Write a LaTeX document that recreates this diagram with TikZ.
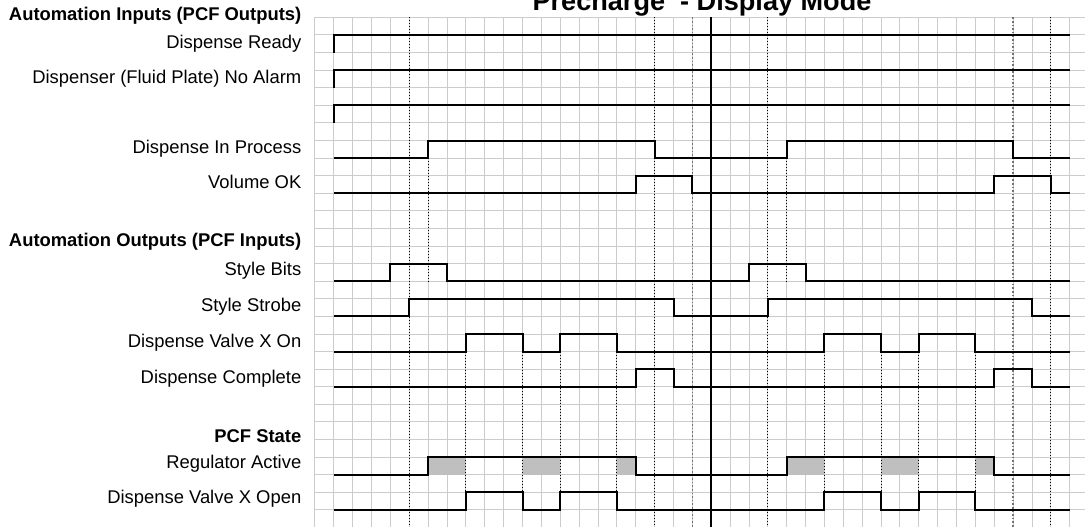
\documentclass[tikz,border=0pt]{standalone}
\usepackage{fontspec}
\setmainfont{Liberation Sans}
\definecolor{GridGray}{gray}{0.80}
\definecolor{FillGray}{gray}{0.75}
\definecolor{GuideGray}{gray}{0.45}

\begin{document}
\begin{tikzpicture}[
    x=9.435pt, y=-8.795pt,
    gridline/.style={GridGray, line width=0.5pt},
    sig/.style={black, line width=1pt, line join=miter},
    guide/.style={black, densely dotted, line width=0.5pt},
    guidegray/.style={GuideGray, densely dotted, line width=0.8pt},
    lbl/.style={anchor=base east, inner sep=0pt, font=\fontsize{9.2}{11}\selectfont},
    hdr/.style={anchor=base east, inner sep=0pt, font=\fontsize{9.2}{11}\selectfont\bfseries},
    headline/.style={anchor=base, inner sep=0pt, font=\fontsize{13.55}{16}\selectfont\bfseries},
]
\useasboundingbox (-16.693,-0.989) rectangle (40.805,28.971);

% --- grid ---
\foreach \c in {0,...,40}
    \draw[gridline] (\c,0) -- (\c,28.971);
\foreach \r in {0,...,28}
    \draw[gridline] (0,\r) -- (40.805,\r);

% --- regulator shading ---
\foreach \a/\b in {6/8, 11/13, 16/17, 25/27, 30/32, 35/36}
    \fill[FillGray] (\a,25) rectangle (\b,26);

% --- dotted guides ---
\foreach \c in {5, 18, 24, 39}
    \draw[guide] (\c,0) -- (\c,28.971);
\foreach \c in {20, 37}
    \draw[guidegray] (\c,0) -- (\c,28.971);
\foreach \c in {6, 25}
    \draw[guide] (\c,8) -- (\c,15);
\foreach \c in {8, 11, 13, 16, 27, 30, 32, 35}
    \draw[guide] (\c,19) -- (\c,27);

% --- title ---
\node[headline] (title) at (20.51,-0.42) {Precharge\ \ - Display Mode};

% ================= AUTOMATION INPUTS =================
\node[hdr] (hin) at (-0.705,0.19) {Automation Inputs (PCF Outputs)};
\node[lbl] (ready) at (-0.705,1.78) {Dispense Ready};
\node[lbl] (alarm) at (-0.705,3.75) {Dispenser (Fluid Plate) No Alarm};
\node[lbl] (inproc) at (-0.705,7.75) {Dispense In Process};
\node[lbl] (volok) at (-0.705,9.75) {Volume OK};

\draw[sig] (1,2) -- (1,1) -- (40,1);
\draw[sig] (1,4) -- (1,3) -- (40,3);
\draw[sig] (1,6) -- (1,5) -- (40,5);
\draw[sig] (1,8) -- (6,8) -- (6,7) -- (18,7) -- (18,8) -- (25,8) -- (25,7)
    -- (37,7) -- (37,8) -- (40,8);
\draw[sig] (1,10) -- (17,10) -- (17,9) -- (20,9) -- (20,10) -- (36,10) -- (36,9)
    -- (39,9) -- (39,10) -- (40,10);

% ================= AUTOMATION OUTPUTS =================
\node[hdr] (hout) at (-0.705,13.0) {Automation Outputs (PCF Inputs)};
\node[lbl] (bits) at (-0.705,14.7) {Style Bits};
\node[lbl] (strobe) at (-0.705,16.74) {Style Strobe};
\node[lbl] (valveon) at (-0.705,18.74) {Dispense Valve X On};
\node[lbl] (complete) at (-0.705,20.8) {Dispense Complete};

\draw[sig] (1,15) -- (4,15) -- (4,14) -- (7,14) -- (7,15) -- (23,15) -- (23,14)
    -- (26,14) -- (26,15) -- (40,15);
\draw[sig] (1,17) -- (5,17) -- (5,16) -- (19,16) -- (19,17) -- (24,17) -- (24,16)
    -- (38,16) -- (38,17) -- (40,17);
\draw[sig] (1,19) -- (8,19) -- (8,18) -- (11,18) -- (11,19) -- (13,19) -- (13,18)
    -- (16,18) -- (16,19) -- (27,19) -- (27,18) -- (30,18) -- (30,19) -- (32,19)
    -- (32,18) -- (35,18) -- (35,19) -- (40,19);
\draw[sig] (1,21) -- (17,21) -- (17,20) -- (19,20) -- (19,21) -- (36,21) -- (36,20)
    -- (38,20) -- (38,21) -- (40,21);

% ================= PCF STATE =================
\node[hdr] (hstate) at (-0.705,24.14) {PCF State};
\node[lbl] (regact) at (-0.705,25.65) {Regulator Active};
\node[lbl] (valveopen) at (-0.705,27.62) {Dispense Valve X Open};

\draw[sig] (1,26) -- (6,26) -- (6,25) -- (17,25) -- (17,26) -- (25,26) -- (25,25)
    -- (36,25) -- (36,26) -- (40,26);
\draw[sig] (1,28) -- (8,28) -- (8,27) -- (11,27) -- (11,28) -- (13,28) -- (13,27)
    -- (16,27) -- (16,28) -- (27,28) -- (27,27) -- (30,27) -- (30,28) -- (32,28)
    -- (32,27) -- (35,27) -- (35,28) -- (40,28);

% --- cycle divider ---
\draw[black, line width=1pt] (21,0) -- (21,28.971);

\end{tikzpicture}
\end{document}
